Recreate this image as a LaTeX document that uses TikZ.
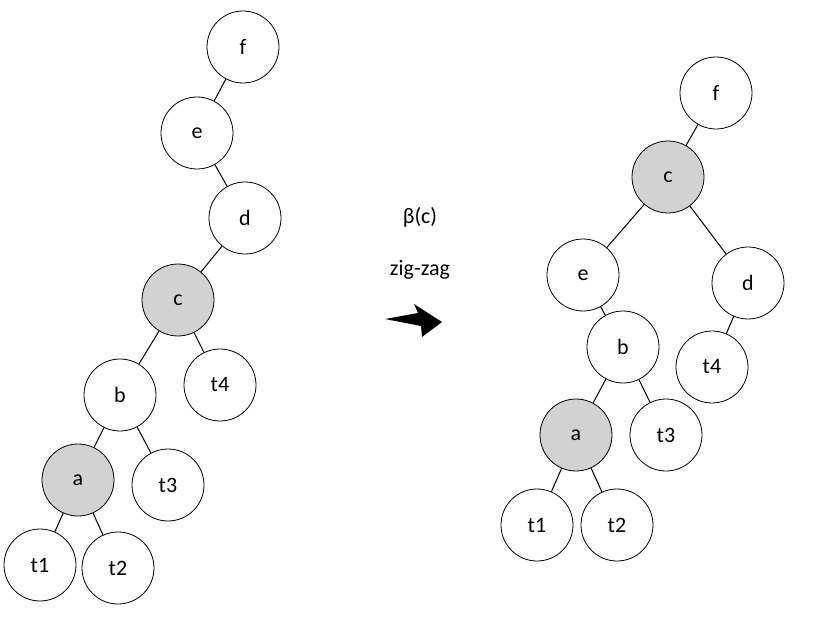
\documentclass[tikz,border=0pt]{standalone}
\usepackage{fontspec}
\setmainfont{Carlito}
\begin{document}
\begin{tikzpicture}[x=1pt,y=-1pt,
  nd/.style={circle,draw,line width=0.8pt,minimum size=72pt,inner sep=0pt,font=\fontsize{22}{24}\selectfont},
  gr/.style={nd,fill=gray!35},
  ed/.style={line width=1pt}]
\useasboundingbox (0,0) rectangle (831,623);
% left tree
\node[nd] (f) at (243,47) {f};
\node[nd] (e) at (197,133) {e};
\node[nd] (d) at (245,218) {d};
\node[gr] (c) at (178,300) {c};
\node[nd] (b) at (120,395) {b};
\node[nd] (t4) at (220,385) {t4};
\node[gr] (a) at (78,480) {a};
\node[nd] (t3) at (168,485) {t3};
\node[nd] (t1) at (40,565) {t1};
\node[nd] (t2) at (118,568) {t2};
\draw[ed] (f)--(e) (e)--(d) (d)--(c) (c)--(b) (c)--(t4) (b)--(a) (b)--(t3) (a)--(t1) (a)--(t2);
% right tree
\node[nd] (F) at (716,93) {f};
\node[gr] (C) at (668,177) {c};
\node[nd] (E) at (583,275) {e};
\node[nd] (D) at (748,283) {d};
\node[nd] (B) at (623,347) {b};
\node[nd] (T4) at (712,367) {t4};
\node[gr] (A) at (576,435) {a};
\node[nd] (T3) at (666,435) {t3};
\node[nd] (T1) at (537,525) {t1};
\node[nd] (T2) at (617,525) {t2};
\draw[ed] (F)--(C) (C)--(E) (C)--(D) (E)--(B) (D)--(T4) (B)--(A) (B)--(T3) (A)--(T1) (A)--(T2);
% label
\node[font=\fontsize{22}{24}\selectfont] (lb) at (420,217) {β(c)};
\node[font=\fontsize{22}{24}\selectfont] (lz) at (420,270) {zig-zag};
\fill (385,319) -- (418,313) -- (414,304) -- (442,322) -- (422,337) -- (421,326) -- cycle;
\end{tikzpicture}
\end{document}
